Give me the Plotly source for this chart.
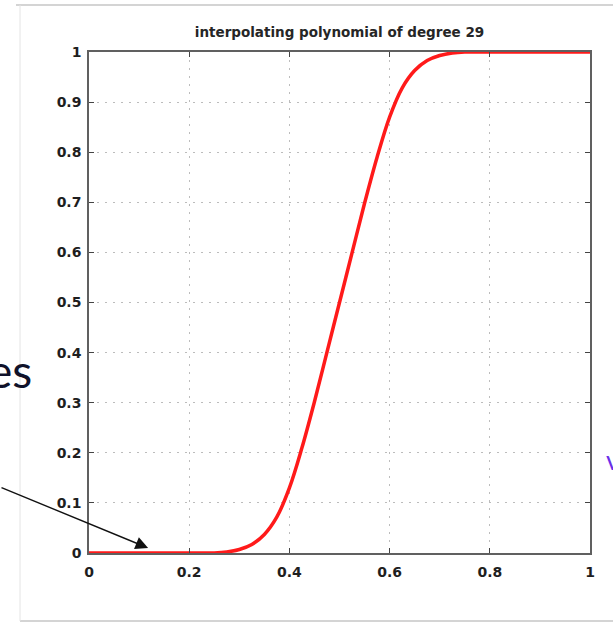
import plotly.graph_objects as go

# Sampled values of the degree-29 interpolating polynomial on [0, 1]
x_vals = [0.0, 0.05, 0.10, 0.15, 0.20, 0.225, 0.25, 0.275, 0.30, 0.325, 0.35,
          0.375, 0.40, 0.425, 0.45, 0.475, 0.50, 0.525, 0.55, 0.575, 0.60,
          0.625, 0.65, 0.675, 0.70, 0.725, 0.75, 0.775, 0.80, 0.85, 0.90,
          0.95, 1.0]
y_vals = [0.0, 0.0, 0.0, 0.0, 0.0, 0.0, 0.0, 0.002, 0.007, 0.017, 0.037,
          0.072, 0.130, 0.210, 0.302, 0.401, 0.50, 0.599, 0.698, 0.790, 0.870,
          0.928, 0.963, 0.983, 0.993, 0.998, 1.0, 1.0, 1.0, 1.0, 1.0,
          1.0, 1.0]

tick_vals = [0, 0.2, 0.4, 0.6, 0.8, 1]
tick_text = ["0", "0.2", "0.4", "0.6", "0.8", "1"]
ytick_vals = [0, 0.1, 0.2, 0.3, 0.4, 0.5, 0.6, 0.7, 0.8, 0.9, 1]
ytick_text = ["0", "0.1", "0.2", "0.3", "0.4", "0.5", "0.6", "0.7", "0.8", "0.9", "1"]

title_text = "interpolating polynomial of degree 29"

W, H = 613, 624
L, R, T, B = 89, 23, 52, 71
PW, PH = W - L - R, H - T - B


def px_x(px):
    return (px - L) / PW


def px_y(py):
    return (H - B - py) / PH


fig = go.Figure()
fig.add_trace(go.Scatter(
    x=x_vals, y=y_vals, mode="lines",
    line=dict(color="#ff1a1a", width=3.5, shape="spline", smoothing=1.0),
    showlegend=False, hoverinfo="skip",
))

axis_common = dict(
    showline=True, linecolor="#606060", linewidth=1.5, mirror="ticks",
    ticks="inside", ticklen=5, tickwidth=1.2, tickcolor="#444444",
    showgrid=True, gridcolor="#bcbcbc", griddash="2px,6px", gridwidth=1,
    zeroline=False,
    tickfont=dict(family="DejaVu Sans", size=14, color="#1e1e1e", weight="bold"),
)

fig.update_xaxes(range=[0, 1], tickvals=tick_vals, ticktext=tick_text,
                 ticklabelstandoff=5, **axis_common)
fig.update_yaxes(range=[0, 1], tickvals=ytick_vals, ticktext=ytick_text,
                 ticklabelstandoff=3, **axis_common)

# slide frame lines around the figure
frame = dict(type="line", xref="paper", yref="paper", layer="above")
fig.add_shape(x0=px_x(16), x1=px_x(613), y0=px_y(5), y1=px_y(5),
              line=dict(color="#d4d4d4", width=2), **frame)
fig.add_shape(x0=px_x(20), x1=px_x(613), y0=px_y(621), y1=px_y(621),
              line=dict(color="#d4d4d4", width=2), **frame)
fig.add_shape(x0=px_x(20), x1=px_x(20), y0=px_y(5), y1=px_y(621),
              line=dict(color="#e4e4e4", width=1), **frame)

# slide text fragments at the edges
fig.add_annotation(text="es", xref="paper", yref="paper",
                   x=px_x(34), y=px_y(370), xanchor="right", yanchor="middle",
                   showarrow=False,
                   font=dict(family="Lato", size=46, color="#10122a"))
fig.add_annotation(text="v", xref="paper", yref="paper",
                   x=px_x(604), y=px_y(460), xanchor="left", yanchor="middle",
                   showarrow=False,
                   font=dict(family="Lato", size=26, color="#6a30e8"))

# arrow pointing at the flat region of the curve
fig.add_annotation(x=0.118, y=0.01, xref="x", yref="y",
                   ax=-150, ay=-61, text="", showarrow=True,
                   arrowhead=2, arrowsize=1.8, arrowwidth=1.4,
                   arrowcolor="#111111")

fig.update_layout(
    width=W, height=H,
    margin=dict(l=L, r=R, t=T, b=B),
    paper_bgcolor="white", plot_bgcolor="white",
    title=dict(text=title_text, x=(L + PW / 2) / W, xanchor="center",
               y=1 - 32 / H, yanchor="middle",
               font=dict(family="DejaVu Sans", size=13.5, color="#262626", weight="bold")),
)

fig.write_html("out.html")
